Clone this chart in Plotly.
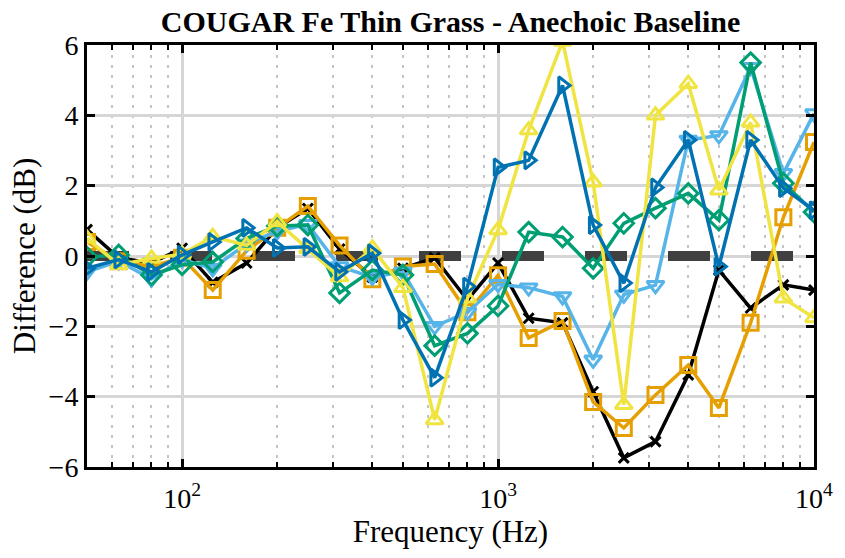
import plotly.graph_objects as go

freqs = [50, 63, 80, 100, 125, 160, 200, 250, 315, 400, 500, 630, 800,
         1000, 1250, 1600, 2000, 2500, 3150, 4000, 5000, 6300, 8000, 10000]

black = [0.75, -0.05, -0.2, 0.22, -0.75, -0.2, 0.8, 1.35, 0.2, -0.6, -0.35, -0.05, -1.25,
         -0.2, -1.77, -1.9, -3.86, -5.74, -5.28, -3.38, -0.4, -1.48, -0.82, -0.97]
orange = [0.4, -0.15, -0.3, -0.05, -0.97, 0.15, 0.8, 1.42, 0.3, -0.66, -0.3, -0.23, -1.6,
          -0.55, -2.33, -1.85, -4.15, -4.89, -3.95, -3.1, -4.32, -1.9, 1.1, 3.24]
skyblue = [-0.45, -0.15, -0.65, -0.1, -0.35, 0.35, 0.7, 0.9, -0.3, -0.6, -0.45, -2.0, -1.6,
           -0.8, -0.9, -1.15, -2.95, -1.1, -0.83, 3.3, 3.43, 5.37, 2.35, 4.05]
green = [-0.03, 0.03, -0.54, -0.25, -0.17, 0.5, 0.85, 0.88, -1.05, -0.4, -0.54, -2.55, -2.2,
         -1.42, 0.68, 0.54, -0.35, 0.93, 1.36, 1.78, 1.02, 5.5, 2.07, 1.25]
yellow = [0.5, -0.25, -0.07, 0.05, 0.55, 0.3, 0.97, 0.2, -0.6, 0.22, -0.9, -4.66, -1.2,
          0.74, 3.58, 6.1, 2.1, -4.23, 4.0, 4.9, 1.87, 3.8, -1.2, -1.76]
blue = [-0.35, -0.1, -0.45, 0.03, 0.4, 0.8, 0.23, 0.26, -0.45, 0.08, -1.82, -3.46, -0.87,
        2.52, 2.72, 4.85, 0.88, -0.77, 1.95, 3.3, -0.3, 3.3, 1.93, 1.3]
baseline = [0.0, 0.0]
baseline_x = [50, 10000]

series = [
    ("black", black, "#000000", "x-thin-open"),
    ("orange", orange, "#E69F00", "square-open"),
    ("skyblue", skyblue, "#56B4E9", "triangle-down-open"),
    ("green", green, "#009E73", "diamond-open"),
    ("yellow", yellow, "#F0E442", "triangle-up-open"),
    ("blue", blue, "#0072B2", "triangle-right-open"),
]

fig = go.Figure()
fig.add_trace(go.Scatter(x=baseline_x, y=baseline, mode="lines",
                         line=dict(color="#404040", width=10, dash="42px,41px"),
                         showlegend=False, hoverinfo="skip"))
for name, vals, col, sym in series:
    fig.add_trace(go.Scatter(
        x=freqs, y=vals, mode="lines+markers", name=name,
        line=dict(color=col, width=3.5),
        marker=dict(symbol=sym, size=15 if sym != "x-thin-open" else 10,
                    color=col, line=dict(color=col, width=3)),
        showlegend=False))

font_family = '"Liberation Serif", "Times New Roman", "DejaVu Serif", serif'
fig.update_layout(
    width=845, height=558,
    margin=dict(l=87, r=25, t=45, b=91),
    paper_bgcolor="white", plot_bgcolor="white",
    font=dict(family=font_family, size=28, color="black"),
    title=dict(text="<b>COUGAR Fe Thin Grass - Anechoic Baseline</b>",
               xref="paper", x=0.5, xanchor="center",
               yref="container", y=0.962, yanchor="middle",
               font=dict(family=font_family, size=30, color="black")),
)
fig.update_xaxes(
    type="log", range=[1.69897, 4.0],
    tickvals=[100, 1000, 10000],
    ticktext=["10<sup>2</sup>", "10<sup>3</sup>", "10<sup>4</sup>"],
    ticks="inside", ticklen=8, tickwidth=3, tickcolor="black",
    ticklabelstandoff=4,
    showline=True, linecolor="black", linewidth=3, mirror="ticks",
    showgrid=True, gridcolor="#d6d6d6", gridwidth=3,
    zeroline=False,
    minor=dict(tickvals=[50, 60, 70, 80, 90, 200, 300, 400, 500, 600, 700, 800, 900,
                         2000, 3000, 4000, 5000, 6000, 7000, 8000, 9000],
               ticks="inside", ticklen=5, tickwidth=2, tickcolor="black",
               showgrid=True, gridcolor="#c4c4c4", gridwidth=2, griddash="3px,7px"),
    title=dict(text="Frequency (Hz)", font=dict(family=font_family, size=31), standoff=4),
    tickfont=dict(family=font_family, size=28),
)
fig.update_yaxes(
    range=[-6, 6], tickvals=[-6, -4, -2, 0, 2, 4, 6],
    ticks="inside", ticklen=8, tickwidth=3, tickcolor="black",
    showline=True, linecolor="black", linewidth=3, mirror="ticks",
    showgrid=True, gridcolor="#d6d6d6", gridwidth=3,
    zeroline=False,
    title=dict(text="Difference (dB)", font=dict(family=font_family, size=31), standoff=4),
    tickfont=dict(family=font_family, size=28),
)

fig.write_html("out.html", config={"displayModeBar": False},
               post_script="document.body.style.margin='0';")
